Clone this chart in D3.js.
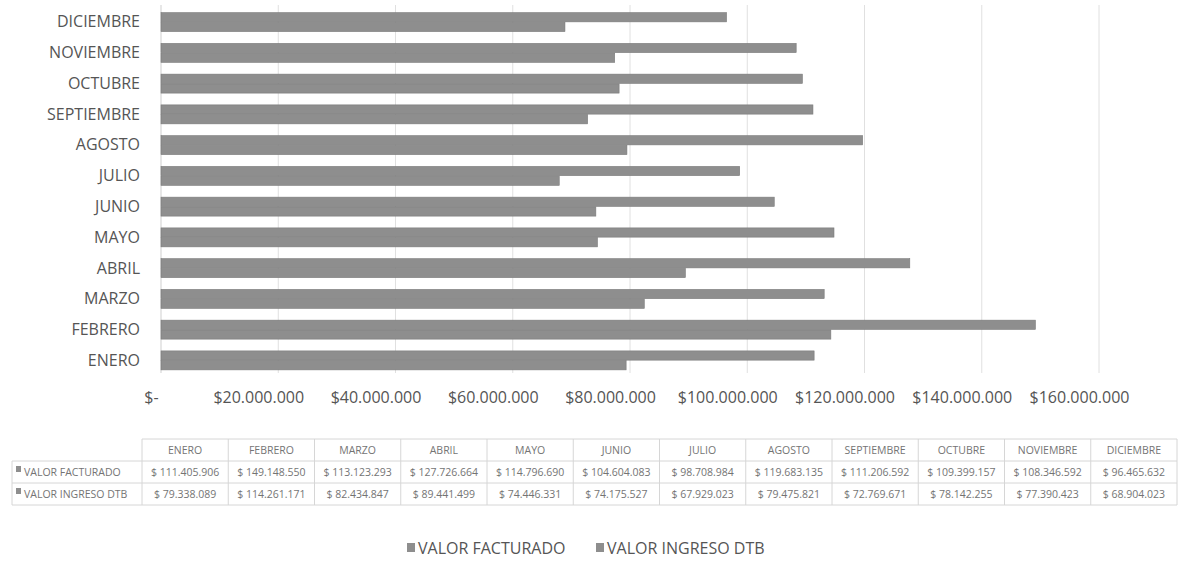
<!DOCTYPE html>
<html>
<head>
<meta charset="utf-8">
<script src="https://cdn.jsdelivr.net/npm/d3@7"></script>
<style>
  body { margin: 0; background: #fff; }
  svg text { font-family: "Open Sans", sans-serif; }
</style>
</head>
<body>
<svg id="chart" width="1178" height="567"></svg>
<script>
// data
var months = ["ENERO", "FEBRERO", "MARZO", "ABRIL", "MAYO", "JUNIO", "JULIO",
              "AGOSTO", "SEPTIEMBRE", "OCTUBRE", "NOVIEMBRE", "DICIEMBRE"];
var seriesNames = ["VALOR FACTURADO", "VALOR INGRESO DTB"];
var facturado = [111405906, 149148550, 113123293, 127726664, 114796690, 104604083,
                 98708984, 119683135, 111206592, 109399157, 108346592, 96465632];
var ingresoDtb = [79338089, 114261171, 82434847, 89441499, 74446331, 74175527,
                  67929023, 79475821, 72769671, 78142255, 77390423, 68904023];
var xTicks = [0, 20000000, 40000000, 60000000, 80000000, 100000000, 120000000, 140000000, 160000000];

var svg = d3.select("svg#chart");
var width = +svg.attr("width");
var height = +svg.attr("height");

var barFill = "#8e8e8e";
var textColor = "#555";

// peso format with dots as thousands separator
var num = d3.formatLocale({ decimal: ",", thousands: ".", grouping: [3], currency: ["$", ""] }).format(",d");
function money(v) { return v === 0 ? "$-" : "$" + num(v); }
function moneyTable(v) { return "$ " + num(v); }

var rows = months.map(function(m, i) {
  return { month: m, values: [facturado[i], ingresoDtb[i]] };
});

//////////////// scales ////////////////
var x = d3.scaleLinear()
  .domain([0, 160000000])
  .range([161, 1099]);

// ENERO at the bottom, DICIEMBRE on top
var y = d3.scaleBand()
  .domain(months.slice().reverse())
  .range([7, 376])
  .paddingInner(0.367)
  .paddingOuter(0.183);

var ySeries = d3.scaleBand()
  .domain([0, 1])
  .range([0, y.bandwidth()]);

//////////////// gridlines ////////////////
svg.append("g").attr("class", "grid")
  .selectAll("line")
  .data(xTicks)
  .enter().append("line")
    .attr("x1", function(d) { return x(d); })
    .attr("x2", function(d) { return x(d); })
    .attr("y1", 5)
    .attr("y2", 373)
    .attr("stroke", function(d) { return d === 0 ? "#cfcfcf" : "#e0e0e0"; })
    .attr("stroke-width", 1);

//////////////// bars ////////////////
var groups = svg.append("g").attr("class", "bars")
  .selectAll("g")
  .data(rows)
  .enter().append("g")
    .attr("transform", function(d) { return "translate(0," + y(d.month) + ")"; });

groups.selectAll("rect")
  .data(function(d) { return d.values; })
  .enter().append("rect")
    .attr("x", x(0))
    .attr("y", function(d, i) { return ySeries(i); })
    .attr("width", function(d) { return x(d) - x(0); })
    .attr("height", ySeries.bandwidth() - 0.5)
    .attr("fill", barFill)
    .attr("stroke", "#7a7a7a")
    .attr("stroke-width", 0.6);

//////////////// axes ////////////////
var yAxis = svg.append("g")
  .attr("transform", "translate(" + x(0) + ",0)")
  .call(d3.axisLeft(y).tickSize(0).tickPadding(21));
yAxis.select(".domain").remove();
yAxis.selectAll("text")
  .style("font-size", "16px")
  .attr("fill", textColor);

var xAxis = svg.append("g")
  .attr("transform", "translate(0,389)")
  .call(d3.axisBottom(x).tickValues(xTicks).tickFormat(money).tickSize(0));
xAxis.select(".domain").remove();
xAxis.selectAll("text")
  .style("font-size", "16px")
  .attr("fill", textColor)
  .attr("dx", function(d) { return d === 0 ? -10 : -20; });

//////////////// data table ////////////////
var colX = d3.scaleBand()
  .domain(months)
  .range([142, 1177]);

var tableTop = 439, rowH = 22, labelLeft = 12;
var table = svg.append("g").attr("class", "datatable");
var lineColor = "#d6d6d6";
var tableText = "#747474";

// header cells
table.selectAll("text.head")
  .data(months)
  .enter().append("text")
    .attr("class", "head")
    .attr("x", function(d) { return colX(d) + colX.bandwidth() / 2; })
    .attr("y", tableTop + rowH / 2 + 4)
    .attr("text-anchor", "middle")
    .style("font-size", "10.5px")
    .attr("fill", tableText)
    .text(function(d) { return d; });

var seriesVals = [facturado, ingresoDtb];
seriesNames.forEach(function(name, s) {
  var yMid = tableTop + rowH * (s + 1) + rowH / 2;
  table.append("rect")
    .attr("x", labelLeft + 4)
    .attr("y", yMid - 6)
    .attr("width", 5)
    .attr("height", 6)
    .attr("fill", barFill);
  table.append("text")
    .attr("x", labelLeft + 12)
    .attr("y", yMid + 4)
    .style("font-size", "10.5px")
    .attr("fill", tableText)
    .text(name);
  table.selectAll("text.val" + s)
    .data(seriesVals[s])
    .enter().append("text")
      .attr("class", "val" + s)
      .attr("x", function(d, i) { return colX(months[i]) + colX.bandwidth() / 2; })
      .attr("y", yMid + 4)
      .attr("text-anchor", "middle")
      .style("font-size", "10.5px")
      .attr("fill", tableText)
      .text(moneyTable);
});

// table borders
var hLines = [
  { y: tableTop, x1: colX.range()[0] },
  { y: tableTop + rowH, x1: labelLeft },
  { y: tableTop + rowH * 2, x1: labelLeft },
  { y: tableTop + rowH * 3, x1: labelLeft }
];
table.selectAll("line.h")
  .data(hLines)
  .enter().append("line")
    .attr("class", "h")
    .attr("x1", function(d) { return d.x1; })
    .attr("x2", colX.range()[1])
    .attr("y1", function(d) { return d.y; })
    .attr("y2", function(d) { return d.y; })
    .attr("stroke", lineColor);

var vLines = months.map(function(m) { return colX(m); }).concat([colX.range()[1]]);
table.selectAll("line.v")
  .data(vLines)
  .enter().append("line")
    .attr("class", "v")
    .attr("x1", function(d) { return d; })
    .attr("x2", function(d) { return d; })
    .attr("y1", tableTop)
    .attr("y2", tableTop + rowH * 3)
    .attr("stroke", lineColor);
table.append("line")
  .attr("x1", labelLeft).attr("x2", labelLeft)
  .attr("y1", tableTop + rowH).attr("y2", tableTop + rowH * 3)
  .attr("stroke", lineColor);

//////////////// legend ////////////////
var legend = svg.append("g").attr("class", "legend")
  .attr("transform", "translate(0,549)");
var legendX = [407, 596];
seriesNames.forEach(function(name, i) {
  var g = legend.append("g").attr("transform", "translate(" + legendX[i] + ",0)");
  g.append("rect")
    .attr("x", 0).attr("y", -6)
    .attr("width", 8).attr("height", 9)
    .attr("fill", barFill);
  g.append("text")
    .attr("x", 11)
    .attr("y", 4.5)
    .style("font-size", "16px")
    .attr("fill", textColor)
    .text(name);
});
</script>
</body>
</html>
